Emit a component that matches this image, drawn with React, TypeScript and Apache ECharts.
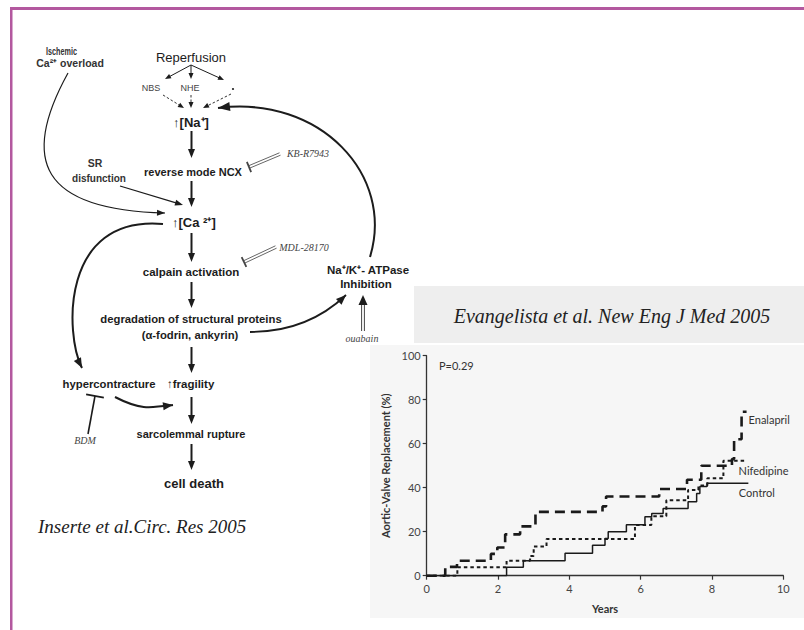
import { useEffect, useRef } from "react";
import * as echarts from "echarts";

// ---- Kaplan-Meier data (years, % aortic-valve replacement) ----
const enalaprilYears = [0, 0.52, 0.85, 1.8, 1.98, 2.2, 2.62, 3.05, 4.93, 5.03, 6.52, 7.3, 7.7, 8.56, 8.62, 8.83, 8.97];
const enalaprilPct = [0, 4, 6.8, 9.9, 12.8, 18.8, 22.4, 29, 31.5, 36, 39.4, 43.6, 50, 53, 62, 74.5, 74.5];

const nifedipineYears = [0, 0.86, 2.24, 2.9, 3.0, 3.36, 5.84, 6.3, 6.72, 7.33, 7.62, 7.87, 8.32, 8.97];
const nifedipinePct = [0, 3.8, 6.8, 9, 13.3, 16.7, 23, 27, 34.3, 39, 41, 44.3, 52.3, 52.3];

const controlYears = [0, 2.24, 2.71, 3.88, 4.65, 5.0, 5.09, 5.6, 6.12, 6.31, 6.63, 7.33, 7.57, 7.66, 7.86, 9.02];
const controlPct = [0, 3.8, 6.8, 10.2, 13.8, 16.9, 20, 23.2, 26.8, 28.3, 30.6, 33.6, 37.4, 40.5, 42, 42];

const seriesNames = ["Enalapril", "Nifedipine", "Control"];
const xMin = 0, xMax = 10, xStep = 2;
const yMin = 0, yMax = 100, yStep = 20;
const pValueText = "P=0.29";
const chartTitle = "Evangelista et al. New Eng J Med 2005";
const diagramCitation = "Inserte et al.Circ. Res 2005";

const INK = "#1c1c1c";
const SANS = "'Liberation Sans', Arial, sans-serif";
const SERIF = "'Liberation Serif', 'Times New Roman', serif";
const CHARTFONT = "Lato, 'Liberation Sans', sans-serif";

function pairs(xs: number[], ys: number[]) {
  return xs.map((x, i) => [x, ys[i]]);
}

// ---- diagram helpers ----
function txt(text: string, x: number, y: number, size: number, opts: any = {}) {
  return {
    type: "text",
    x,
    y,
    z: 50,
    scaleX: opts.scaleX || 1,
    style: {
      text,
      fill: opts.fill || INK,
      fontSize: size,
      fontWeight: opts.weight || "bold",
      fontStyle: opts.italic ? "italic" : "normal",
      fontFamily: opts.serif ? SERIF : SANS,
      align: opts.align || "center",
      verticalAlign: "middle",
    },
  };
}

function head(tx: number, ty: number, fx: number, fy: number, len: number, w: number, color = INK) {
  const dx = tx - fx, dy = ty - fy;
  const L = Math.hypot(dx, dy) || 1;
  const ux = dx / L, uy = dy / L;
  const bx = tx - ux * len, by = ty - uy * len;
  const px = -uy, py = ux;
  return {
    type: "polygon",
    z: 50,
    shape: { points: [[tx, ty], [bx + (px * w) / 2, by + (py * w) / 2], [bx - (px * w) / 2, by - (py * w) / 2]] },
    style: { fill: color },
  };
}

function arrow(x1: number, y1: number, x2: number, y2: number, lw: number, len: number, w: number, dash?: number[], color = INK) {
  const dx = x2 - x1, dy = y2 - y1;
  const L = Math.hypot(dx, dy) || 1;
  const ux = dx / L, uy = dy / L;
  return [
    {
      type: "line",
      z: 50,
      shape: { x1, y1, x2: x2 - ux * len * 0.7, y2: y2 - uy * len * 0.7 },
      style: { stroke: color, lineWidth: lw, lineDash: dash || null },
    },
    head(x2, y2, x1, y1, len, w, color),
  ];
}

function curveArrow(sx: number, sy: number, c1x: number, c1y: number, c2x: number, c2y: number, ex: number, ey: number, lw: number, len: number, w: number) {
  return [
    {
      type: "bezierCurve",
      z: 50,
      shape: { x1: sx, y1: sy, cpx1: c1x, cpy1: c1y, cpx2: c2x, cpy2: c2y, x2: ex, y2: ey },
      style: { stroke: INK, lineWidth: lw, fill: "none" },
    },
    head(ex, ey, c2x, c2y, len, w),
  ];
}

function inhibitor(x1: number, y1: number, x2: number, y2: number, bar: number, double: boolean) {
  const dx = x2 - x1, dy = y2 - y1;
  const L = Math.hypot(dx, dy) || 1;
  const ux = dx / L, uy = dy / L;
  const px = -uy, py = ux;
  const out: any[] = [];
  const offs = double ? [-1.3, 1.3] : [0];
  offs.forEach((o) => {
    out.push({
      type: "line",
      z: 50,
      shape: { x1: x1 + px * o, y1: y1 + py * o, x2: x2 + px * o, y2: y2 + py * o },
      style: { stroke: double ? "#555" : INK, lineWidth: double ? 0.9 : 1.6 },
    });
  });
  out.push({
    type: "line",
    z: 50,
    shape: { x1: x2 + (px * bar) / 2, y1: y2 + (py * bar) / 2, x2: x2 - (px * bar) / 2, y2: y2 - (py * bar) / 2 },
    style: { stroke: double ? "#444" : INK, lineWidth: 1.8 },
  });
  return out;
}

function buildGraphic() {
  const g: any[] = [];
  // frame + panels
  g.push({ type: "rect", z: -10, shape: { x: 10, y: 7, width: 794, height: 3 }, style: { fill: "#b3589f" } });
  g.push({ type: "rect", z: -10, shape: { x: 10, y: 7, width: 2.5, height: 623 }, style: { fill: "#b3589f" } });
  g.push({ type: "rect", z: -10, shape: { x: 414, y: 286, width: 390, height: 57 }, style: { fill: "#eeeeee" } });
  g.push({ type: "rect", z: -10, shape: { x: 370, y: 345, width: 434, height: 273 }, style: { fill: "#f6f6f6" } });
  g.push(txt(chartTitle, 612, 316, 20, { serif: true, italic: true, weight: "normal", fill: "#222" }));

  // texts
  g.push(txt("Ischemic", 61.5, 52, 10, { fill: "#333", scaleX: 0.72 }));
  g.push(txt("Ca²⁺ overload", 70, 63, 10.5, { fill: "#333" }));
  g.push(txt("Reperfusion", 191, 57, 13, { weight: "normal" }));
  g.push(txt("NBS", 151, 88, 9, { weight: "normal", fill: "#444" }));
  g.push(txt("NHE", 190, 88, 9, { weight: "normal", fill: "#444" }));
  g.push({ type: "circle", z: 50, shape: { cx: 233, cy: 89, r: 1.1 }, style: { fill: "#333" } });
  g.push(txt("↑[Na⁺]", 191, 122, 13));
  g.push(txt("reverse mode NCX", 193, 172, 11));
  g.push(txt("KB-R7943", 308, 153, 10, { serif: true, italic: true, weight: "normal", fill: "#444" }));
  g.push(txt("SR", 95, 163, 10.5, { fill: "#333" }));
  g.push(txt("disfunction", 99, 178, 10, { fill: "#333" }));
  g.push(txt("↑[Ca ²⁺]", 172, 222, 13, { align: "left" }));
  g.push(txt("MDL-28170", 304, 247, 10, { serif: true, italic: true, weight: "normal", fill: "#444" }));
  g.push(txt("calpain activation", 191, 272, 11.5));
  g.push(txt("degradation of structural proteins", 191, 319, 11.3));
  g.push(txt("(α-fodrin, ankyrin)", 190, 335, 11.3));
  g.push(txt("Na⁺/K⁺- ATPase", 368, 270, 11.5));
  g.push(txt("Inhibition", 366, 284, 11.5));
  g.push(txt("ouabain", 362, 338, 10, { serif: true, italic: true, weight: "normal", fill: "#444" }));
  g.push(txt("hypercontracture", 109, 384, 11.3));
  g.push(txt("↑fragility", 167, 384, 11.5, { align: "left" }));
  g.push(txt("BDM", 85, 440, 10, { serif: true, italic: true, weight: "normal", fill: "#444" }));
  g.push(txt("sarcolemmal rupture", 191, 434, 11));
  g.push(txt("cell death", 194, 483, 13));
  g.push(txt(diagramCitation, 38, 526, 19, { serif: true, italic: true, weight: "normal", align: "left", fill: "#222" }));

  // main vertical arrows
  const vx = 191.5;
  [[131, 158], [181, 207], [233, 262], [282, 308], [347, 373], [397, 424], [444, 470]].forEach(([a, b]) => {
    g.push(...arrow(vx, a, vx, b, 2, 9, 7));
  });
  // reperfusion branches
  g.push(...arrow(191, 65, 165, 79, 1, 6, 5));
  g.push(...arrow(191, 65, 191, 79, 1, 6, 5));
  g.push(...arrow(191, 65, 224, 80, 1, 6, 5));
  g.push(...arrow(163, 95, 184, 108, 0.9, 6, 5, [2.5, 2]));
  g.push(...arrow(191, 95, 191, 108, 0.9, 6, 5, [2.5, 2]));
  g.push(...arrow(231, 94, 203, 108, 0.9, 6, 5, [2.5, 2]));
  // SR arrow
  g.push(...arrow(120, 186, 183, 205, 1.3, 8, 6));
  // curves
  g.push(...curveArrow(68, 73, 20, 160, 40, 210, 165, 213, 1.2, 8, 6));
  g.push(...curveArrow(163, 224, 60, 215, 65, 335, 82, 368, 2, 10, 8));
  g.push(...curveArrow(250, 332, 295, 332, 325, 315, 346, 295, 1.8, 10, 8));
  g.push(...curveArrow(370, 257, 395, 175, 320, 95, 218, 108, 2, 12, 9));
  g.push(...curveArrow(115, 397, 140, 410, 150, 408, 173, 405, 2, 10, 8));
  // ouabain double arrow
  g.push({ type: "line", z: 50, shape: { x1: 361.6, y1: 331, x2: 361.6, y2: 303 }, style: { stroke: "#444", lineWidth: 1 } });
  g.push({ type: "line", z: 50, shape: { x1: 364.4, y1: 331, x2: 364.4, y2: 303 }, style: { stroke: "#444", lineWidth: 1 } });
  g.push(head(363, 295, 363, 320, 10, 9));
  // inhibitors
  g.push(...inhibitor(280, 154, 249, 167, 11, true));
  g.push(...inhibitor(276, 247, 244, 262, 11, true));
  g.push(...inhibitor(88, 434, 95, 396, 18, false));
  return g;
}

const gridLeft = 426.7, gridTop = 355.7, gridRight = 20.7, gridBottom = 54.3;

const lineDashes: any[] = [[10, 6], [3.5, 3], "solid"];
const lineWidths = [2.6, 2, 1.5];
const endOffsets = [[0, 8], [-10, 9.5], [-11.5, 9.5]];
const dataSets = [
  pairs(enalaprilYears, enalaprilPct),
  pairs(nifedipineYears, nifedipinePct),
  pairs(controlYears, controlPct),
];

export default function App() {
  const ref = useRef<HTMLDivElement>(null);
  useEffect(() => {
    const chart = echarts.init(ref.current!, null, { renderer: "svg" });
    const option: any = {
      animation: false,
      backgroundColor: "#ffffff",
      title: {
        text: pValueText,
        left: 434,
        top: 355,
        textStyle: { fontSize: 11, fontWeight: "normal", color: "#333", fontFamily: CHARTFONT },
      },
      grid: { left: gridLeft, top: gridTop, right: gridRight, bottom: gridBottom, containLabel: false, outerBoundsMode: "none" },
      xAxis: {
        type: "value",
        min: xMin,
        max: xMax,
        interval: xStep,
        name: "Years",
        nameLocation: "middle",
        nameGap: 27,
        nameTextStyle: { fontSize: 11, color: "#333", fontFamily: CHARTFONT, fontWeight: "bold" },
        axisLine: { show: true, lineStyle: { color: "#333", width: 1.3 } },
        axisTick: { show: true, inside: false, length: 4, lineStyle: { color: "#333", width: 1.2 } },
        axisLabel: { fontSize: 11, color: "#444", margin: 7, fontFamily: CHARTFONT },
        splitLine: { show: false },
      },
      yAxis: {
        type: "value",
        min: yMin,
        max: yMax,
        interval: yStep,
        name: "Aortic-Valve Replacement (%)",
        nameLocation: "middle",
        nameGap: 36,
        nameRotate: 90,
        nameTextStyle: { fontSize: 11, color: "#333", fontFamily: CHARTFONT, fontWeight: "bold" },
        axisLine: { show: true, lineStyle: { color: "#333", width: 1.3 } },
        axisTick: { show: true, inside: false, length: 4, lineStyle: { color: "#333", width: 1.2 } },
        axisLabel: { fontSize: 11, color: "#444", margin: 6, fontFamily: CHARTFONT },
        splitLine: { show: false },
      },
      series: seriesNames.map((name, i) => ({
        name,
        type: "line",
        step: "end",
        symbol: "none",
        data: dataSets[i],
        lineStyle: { color: "#1a1a1a", width: lineWidths[i], type: lineDashes[i] },
        endLabel: {
          show: true,
          formatter: name,
          distance: 2,
          offset: endOffsets[i],
          fontSize: 11,
          color: "#333",
          fontFamily: CHARTFONT,
        },
      })),
      graphic: { elements: buildGraphic() },
    };
    chart.setOption(option);
    return () => chart.dispose();
  }, []);
  return <div ref={ref} style={{ position: "fixed", left: 0, top: 0, width: 804, height: 630, background: "#fff" }} />;
}
